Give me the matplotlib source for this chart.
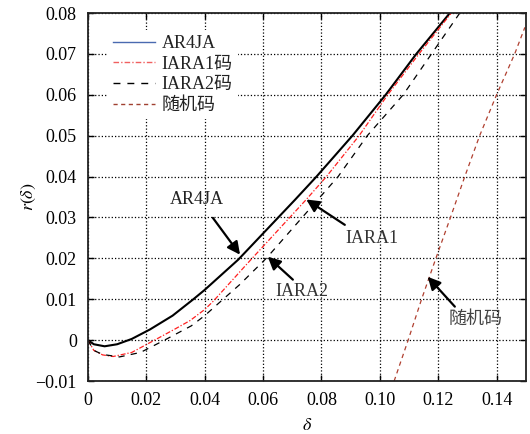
import matplotlib
matplotlib.use('Agg')
import matplotlib.pyplot as plt
from matplotlib.lines import Line2D

plt.rcParams['font.family'] = ['Liberation Serif', 'Noto Sans CJK SC']
plt.rcParams['mathtext.fontset'] = 'stix'

# curves
ar4ja_x = [0, 0.002, 0.0057, 0.010, 0.015, 0.0212, 0.029, 0.0361, 0.040, 0.0515, 0.0709, 0.0783, 0.0906, 0.102, 0.1125, 0.124]
ar4ja_y = [0, -0.0010, -0.0015, -0.0010, 0.0003, 0.0026, 0.0060, 0.0100, 0.0123, 0.0197, 0.0343, 0.0400, 0.0500, 0.0600, 0.0700, 0.0800]

iara1_x = [0, 0.002, 0.005, 0.0086, 0.015, 0.0228, 0.030, 0.035, 0.040, 0.0429, 0.0543, 0.0748, 0.0817, 0.0929, 0.1027, 0.1134, 0.1245]
iara1_y = [0, -0.0025, -0.0036, -0.0040, -0.0030, 0.0, 0.0028, 0.0048, 0.0075, 0.0095, 0.0185, 0.0344, 0.0400, 0.0500, 0.0600, 0.0700, 0.0800]

iara2_x = [0, 0.002, 0.005, 0.0108, 0.018, 0.0262, 0.0354, 0.040, 0.0463, 0.052, 0.0612, 0.0857, 0.0957, 0.108, 0.1177, 0.1274]
iara2_y = [0, -0.0025, -0.0035, -0.0041, -0.0030, 0.0, 0.0035, 0.0060, 0.0100, 0.0136, 0.0201, 0.0400, 0.0500, 0.0600, 0.0700, 0.0800]

rand_x = [0.1049, 0.1097, 0.1143, 0.1192, 0.1242, 0.1291, 0.1342, 0.1400, 0.1462, 0.1497]
rand_y = [-0.01, 0.0, 0.01, 0.02, 0.03, 0.04, 0.05, 0.06, 0.07, 0.0765]

xticks = [0, 0.02, 0.04, 0.06, 0.08, 0.10, 0.12, 0.14]
xtick_labels = ['0', '0.02', '0.04', '0.06', '0.08', '0.10', '0.12', '0.14']
yticks = [-0.01, 0, 0.01, 0.02, 0.03, 0.04, 0.05, 0.06, 0.07, 0.08]
ytick_labels = ['\u22120.01', '0', '0.01', '0.02', '0.03', '0.04', '0.05', '0.06', '0.07', '0.08']

legend_labels = ['AR4JA', 'IARA1码', 'IARA2码', '随机码']

fig = plt.figure(figsize=(5.3, 4.34), dpi=100)
ax = fig.add_axes([0.166, 0.122, 0.826, 0.848])

ax.plot(ar4ja_x, ar4ja_y, color='black', lw=1.5)
ax.plot(iara1_x, iara1_y, color='#ff2020', lw=0.9, ls=(0, (4, 1.5, 1, 1.5)))
ax.plot(iara2_x, iara2_y, color='black', lw=0.9, ls=(0, (5, 5)))
ax.plot(rand_x, rand_y, color='#b04030', lw=0.9, ls=(0, (3.5, 3)))

ax.set_xlim(0, 0.15)
ax.set_ylim(-0.01, 0.08)
ax.set_xticks(xticks)
ax.set_xticklabels(xtick_labels)
ax.set_yticks(yticks)
ax.set_yticklabels(ytick_labels)
ax.tick_params(direction='in', top=True, right=True, length=4, width=1,
               labelsize=13, pad=8)
ax.grid(True, color='black', ls=':', lw=0.9)
for s in ax.spines.values():
    s.set_linewidth(1.3)
    s.set_color('#222222')

ax.set_xlabel(r'$\delta$', fontsize=13, labelpad=6)
ax.set_ylabel(r'$r(\delta)$', fontsize=13, labelpad=-2)

# annotations with arrows
arrow = dict(arrowstyle='-|>', lw=1.6, color='black', mutation_scale=19, shrinkA=0, shrinkB=0)
ax.text(0.0373, 0.0343, 'AR4JA', fontsize=13, color='#222222', ha='center', va='center')
ax.annotate('', xy=(0.0521, 0.0209), xytext=(0.0428, 0.0299), arrowprops=arrow)
ax.text(0.0973, 0.0248, 'IARA1', fontsize=13, color='#333333', ha='center', va='center')
ax.annotate('', xy=(0.0748, 0.0344), xytext=(0.088, 0.0282), arrowprops=arrow)
ax.text(0.0733, 0.0118, 'IARA2', fontsize=13, color='#333333', ha='center', va='center')
ax.annotate('', xy=(0.0616, 0.0204), xytext=(0.0702, 0.0148), arrowprops=arrow)
ax.text(0.1329, 0.0050, '随机码', fontsize=13, color='#444444', ha='center', va='center')
ax.annotate('', xy=(0.1164, 0.0155), xytext=(0.1257, 0.0082), arrowprops=arrow)

handles = [
    Line2D([], [], color='#4a6ab0', lw=1.0),
    Line2D([], [], color='#f06060', lw=1.0, ls=(0, (4, 1.5, 1, 1.5))),
    Line2D([], [], color='black', lw=1.0, ls=(0, (5, 5))),
    Line2D([], [], color='#a04030', lw=1.0, ls=(0, (3, 2.5))),
]
leg = ax.legend(handles, legend_labels, loc='upper left', bbox_to_anchor=(0.045, 0.955),
                borderaxespad=0, fontsize=13, handlelength=2.3, handletextpad=0.4,
                labelspacing=0.2, borderpad=0.3, frameon=True, fancybox=False,
                edgecolor='none', facecolor='white', framealpha=1)
for t in leg.get_texts():
    t.set_color('#222222')

fig.savefig('out.png', dpi=100)
